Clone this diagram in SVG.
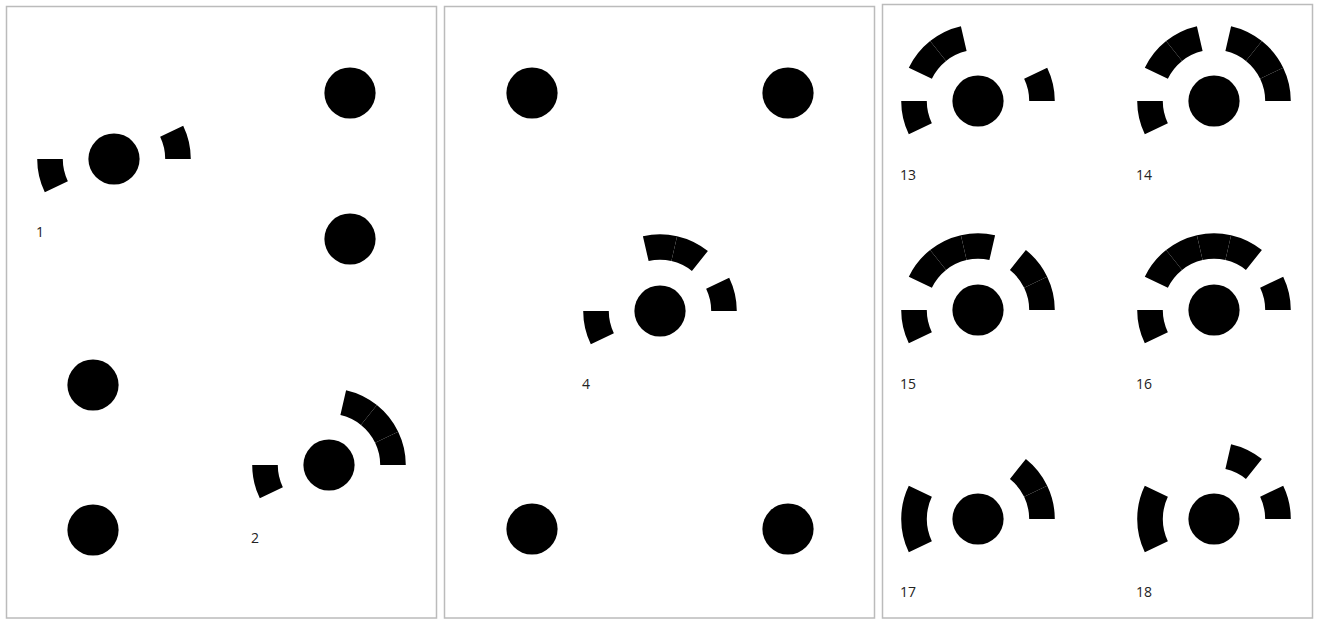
<svg xmlns="http://www.w3.org/2000/svg" xmlns:xlink="http://www.w3.org/1999/xlink" width="1320" height="623" viewBox="0 0 1320 623">
<style>
.panel{fill:#fff;stroke:#bbb;stroke-width:1.5}
.dot{fill:#000}
.seg{fill:#000}
.lbl{font-family:"Open Sans","Noto Sans","Liberation Sans",sans-serif;font-size:14px;fill:#222}
</style>
<defs>
<circle id="c" r="25.6" class="dot"/>
<path id="s0" class="seg" d="M76.8,0 A76.8,76.8 0 0 0 69.194,-33.322 L46.130,-22.215 A51.2,51.2 0 0 1 51.2,0 Z"/>
<path id="s1" class="seg" d="M69.194,-33.322 A76.8,76.8 0 0 0 47.884,-60.045 L31.923,-40.030 A51.2,51.2 0 0 1 46.130,-22.215 Z"/>
<path id="s2" class="seg" d="M47.884,-60.045 A76.8,76.8 0 0 0 17.090,-74.875 L11.393,-49.916 A51.2,51.2 0 0 1 31.923,-40.030 Z"/>
<path id="s3" class="seg" d="M17.090,-74.875 A76.8,76.8 0 0 0 -17.090,-74.875 L-11.393,-49.916 A51.2,51.2 0 0 1 11.393,-49.916 Z"/>
<path id="s4" class="seg" d="M-17.090,-74.875 A76.8,76.8 0 0 0 -47.884,-60.045 L-31.923,-40.030 A51.2,51.2 0 0 1 -11.393,-49.916 Z"/>
<path id="s5" class="seg" d="M-47.884,-60.045 A76.8,76.8 0 0 0 -69.194,-33.322 L-46.130,-22.215 A51.2,51.2 0 0 1 -31.923,-40.030 Z"/>
<path id="s6" class="seg" d="M-69.194,-33.322 A76.8,76.8 0 0 0 -76.8,0 L-51.2,0 A51.2,51.2 0 0 1 -46.130,-22.215 Z"/>
<path id="s7" class="seg" d="M-76.8,0 A76.8,76.8 0 0 0 -69.194,33.322 L-46.130,22.215 A51.2,51.2 0 0 1 -51.2,0 Z"/>
</defs>
<rect width="1320" height="623" fill="#fff"/>
<rect class="panel" x="6.5" y="6.5" width="430" height="611.5"/>
<rect class="panel" x="444.5" y="6.5" width="430" height="611.5"/>
<rect class="panel" x="882.5" y="4.5" width="430" height="613.5"/>

<g id="panel1">
<g id="p1-dot-a"><use xlink:href="#c" x="350" y="93"/></g>
<g id="p1-dot-b"><use xlink:href="#c" x="350" y="239"/></g>
<g id="p1-dot-c"><use xlink:href="#c" x="93" y="385"/></g>
<g id="p1-dot-d"><use xlink:href="#c" x="93" y="530"/></g>
<g id="node1" transform="translate(114,159)">
<use xlink:href="#c"/><use xlink:href="#s0"/><use xlink:href="#s7"/>
<text class="lbl" x="-78" y="78">1</text>
</g>
<g id="node2" transform="translate(329,465)">
<use xlink:href="#c"/><use xlink:href="#s0"/><use xlink:href="#s1"/><use xlink:href="#s2"/><use xlink:href="#s7"/>
<text class="lbl" x="-78" y="78">2</text>
</g>
</g>

<g id="panel2">
<g id="p2-dot-a"><use xlink:href="#c" x="532" y="93"/></g>
<g id="p2-dot-b"><use xlink:href="#c" x="788" y="93"/></g>
<g id="p2-dot-c"><use xlink:href="#c" x="532" y="529"/></g>
<g id="p2-dot-d"><use xlink:href="#c" x="788" y="529"/></g>
<g id="node4" transform="translate(660,311)">
<use xlink:href="#c"/><use xlink:href="#s0"/><use xlink:href="#s2"/><use xlink:href="#s3"/><use xlink:href="#s7"/>
<text class="lbl" x="-78" y="78">4</text>
</g>
</g>

<g id="panel3">
<g id="node13" transform="translate(978,101)">
<use xlink:href="#c"/><use xlink:href="#s0"/><use xlink:href="#s4"/><use xlink:href="#s5"/><use xlink:href="#s7"/>
<text class="lbl" x="-78" y="79">13</text>
</g>
<g id="node14" transform="translate(1214,101)">
<use xlink:href="#c"/><use xlink:href="#s0"/><use xlink:href="#s1"/><use xlink:href="#s2"/><use xlink:href="#s4"/><use xlink:href="#s5"/><use xlink:href="#s7"/>
<text class="lbl" x="-78" y="79">14</text>
</g>
<g id="node15" transform="translate(978,310)">
<use xlink:href="#c"/><use xlink:href="#s0"/><use xlink:href="#s1"/><use xlink:href="#s3"/><use xlink:href="#s4"/><use xlink:href="#s5"/><use xlink:href="#s7"/>
<text class="lbl" x="-78" y="79">15</text>
</g>
<g id="node16" transform="translate(1214,310)">
<use xlink:href="#c"/><use xlink:href="#s0"/><use xlink:href="#s2"/><use xlink:href="#s3"/><use xlink:href="#s4"/><use xlink:href="#s5"/><use xlink:href="#s7"/>
<text class="lbl" x="-78" y="79">16</text>
</g>
<g id="node17" transform="translate(978,519)">
<use xlink:href="#c"/><use xlink:href="#s0"/><use xlink:href="#s1"/><use xlink:href="#s6"/><use xlink:href="#s7"/>
<text class="lbl" x="-78" y="78">17</text>
</g>
<g id="node18" transform="translate(1214,519)">
<use xlink:href="#c"/><use xlink:href="#s0"/><use xlink:href="#s2"/><use xlink:href="#s6"/><use xlink:href="#s7"/>
<text class="lbl" x="-78" y="78">18</text>
</g>
</g>
</svg>
